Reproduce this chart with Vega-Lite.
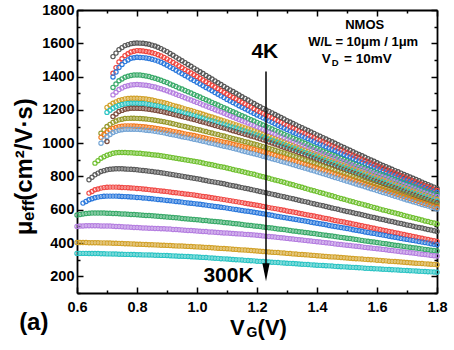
{
"$schema": "https://vega.github.io/schema/vega-lite/v6.json",
"width": 360, "height": 283,
"autosize": "none",
"padding": {"left": 77, "top": 10, "right": 17, "bottom": 57},
"background": "white",
"config": {"view": {"stroke": null}, "font": "Liberation Sans"},
"resolve": {"axis": {"x": "independent", "y": "independent"}},
"layer": [
{
"data": {"values": [
{"x":0.6,"p":568,"q":500,"r":403,"s":338},
{"x":0.61,"p":572,"q":502,"r":403,"s":338},
{"x":0.62,"o":640,"p":575,"q":503,"r":403,"s":338},
{"x":0.63,"o":650,"p":577,"q":504,"r":403,"s":338},
{"x":0.64,"m":780,"n":700,"o":660,"p":579,"q":504,"r":402,"s":337},
{"x":0.65,"m":795,"n":710,"o":666,"p":580,"q":504,"r":402,"s":337},
{"x":0.66,"l":880,"m":810,"n":720,"o":672,"p":580,"q":504,"r":402,"s":337},
{"x":0.67,"l":895,"m":820,"n":725,"o":676,"p":580,"q":504,"r":402,"s":337},
{"x":0.68,"i":1060,"j":1035,"k":1000,"l":910,"m":830,"n":730,"o":679,"p":580,"q":503,"r":401,"s":336},
{"x":0.69,"i":1080,"j":1052,"k":1020,"l":919,"m":835,"n":733,"o":681,"p":580,"q":503,"r":401,"s":336},
{"x":0.7,"f":1215,"g":1185,"h":1010,"i":1100,"j":1068,"k":1040,"l":928,"m":840,"n":735,"o":682,"p":579,"q":502,"r":400,"s":335},
{"x":0.71,"f":1228,"g":1198,"i":1113,"j":1078,"k":1052,"l":934,"m":843,"n":736,"o":682,"p":579,"q":502,"r":400,"s":335},
{"x":0.72,"a":1520,"b":1420,"c":1398,"d":1335,"e":1290,"f":1240,"g":1210,"h":1160,"i":1125,"j":1088,"k":1064,"l":939,"m":845,"n":736,"o":682,"p":578,"q":501,"r":399,"s":334},
{"x":0.73,"a":1541,"b":1454,"c":1427,"d":1355,"e":1306,"f":1248,"g":1219,"h":1175,"i":1133,"j":1094,"k":1071,"l":942,"m":846,"n":736,"o":682,"p":577,"q":500,"r":399,"s":334},
{"x":0.74,"a":1562,"b":1488,"c":1455,"d":1375,"e":1322,"f":1256,"g":1227,"h":1190,"i":1140,"j":1099,"k":1078,"l":944,"m":846,"n":735,"o":681,"p":576,"q":499,"r":398,"s":333},
{"x":0.75,"a":1574,"b":1507,"c":1473,"d":1386,"e":1331,"f":1261,"g":1232,"h":1197,"i":1144,"j":1102,"k":1081,"l":944,"m":846,"n":734,"o":680,"p":575,"q":498,"r":397,"s":333},
{"x":0.76,"a":1586,"b":1526,"c":1490,"d":1396,"e":1340,"f":1266,"g":1236,"h":1204,"i":1148,"j":1104,"k":1084,"l":944,"m":845,"n":733,"o":679,"p":574,"q":497,"r":396,"s":332},
{"x":0.77,"a":1592,"b":1537,"c":1500,"d":1402,"e":1345,"f":1268,"g":1238,"h":1207,"i":1149,"j":1104,"k":1084,"l":943,"m":844,"n":732,"o":678,"p":573,"q":496,"r":396,"s":332},
{"x":0.78,"a":1598,"b":1548,"c":1510,"d":1407,"e":1350,"f":1270,"g":1240,"h":1210,"i":1150,"j":1104,"k":1084,"l":942,"m":843,"n":731,"o":677,"p":572,"q":495,"r":395,"s":331},
{"x":0.79,"a":1600,"b":1552,"c":1513,"d":1409,"e":1351,"f":1270,"g":1240,"h":1210,"i":1150,"j":1103,"k":1084,"l":941,"m":842,"n":730,"o":676,"p":571,"q":494,"r":394,"s":331},
{"x":0.8,"a":1602,"b":1556,"c":1516,"d":1410,"e":1352,"f":1270,"g":1240,"h":1210,"i":1149,"j":1102,"k":1083,"l":940,"m":840,"n":728,"o":674,"p":570,"q":493,"r":393,"s":330},
{"x":0.81,"a":1601,"b":1555,"c":1515,"d":1409,"e":1351,"f":1269,"g":1239,"h":1209,"i":1148,"j":1101,"k":1082,"l":939,"m":838,"n":727,"o":673,"p":569,"q":492,"r":393,"s":330},
{"x":0.82,"a":1600,"b":1554,"c":1514,"d":1407,"e":1350,"f":1267,"g":1238,"h":1208,"i":1147,"j":1099,"k":1080,"l":937,"m":836,"n":725,"o":671,"p":567,"q":491,"r":392,"s":329},
{"x":0.83,"a":1597,"b":1551,"c":1512,"d":1404,"e":1348,"f":1265,"g":1236,"h":1206,"i":1145,"j":1097,"k":1078,"l":935,"m":834,"n":723,"o":670,"p":566,"q":490,"r":391,"s":329},
{"x":0.84,"a":1594,"b":1548,"c":1509,"d":1400,"e":1345,"f":1262,"g":1233,"h":1204,"i":1143,"j":1095,"k":1076,"l":933,"m":832,"n":721,"o":668,"p":565,"q":489,"r":390,"s":328},
{"x":0.85,"a":1589,"b":1543,"c":1504,"d":1395,"e":1341,"f":1259,"g":1230,"h":1201,"i":1141,"j":1093,"k":1074,"l":931,"m":830,"n":719,"o":666,"p":564,"q":489,"r":390,"s":328},
{"x":0.86,"a":1584,"b":1538,"c":1499,"d":1390,"e":1337,"f":1255,"g":1227,"h":1198,"i":1138,"j":1090,"k":1071,"l":929,"m":827,"n":717,"o":664,"p":562,"q":488,"r":389,"s":327},
{"x":0.87,"a":1576,"b":1531,"c":1493,"d":1384,"e":1332,"f":1251,"g":1224,"h":1195,"i":1135,"j":1087,"k":1068,"l":927,"m":825,"n":715,"o":662,"p":561,"q":487,"r":388,"s":327},
{"x":0.88,"a":1568,"b":1524,"c":1486,"d":1378,"e":1327,"f":1247,"g":1220,"h":1191,"i":1132,"j":1084,"k":1065,"l":924,"m":822,"n":713,"o":660,"p":559,"q":486,"r":387,"s":326},
{"x":0.89,"a":1559,"b":1515,"c":1477,"d":1371,"e":1321,"f":1243,"g":1216,"h":1187,"i":1129,"j":1081,"k":1062,"l":922,"m":820,"n":711,"o":658,"p":558,"q":486,"r":387,"s":326},
{"x":0.9,"a":1550,"b":1506,"c":1468,"d":1364,"e":1315,"f":1238,"g":1212,"h":1183,"i":1125,"j":1078,"k":1058,"l":919,"m":817,"n":709,"o":656,"p":556,"q":485,"r":386,"s":325},
{"x":0.91,"a":1539,"b":1496,"c":1458,"d":1356,"e":1308,"f":1233,"g":1207,"h":1179,"i":1121,"j":1075,"k":1054,"l":916,"m":814,"n":707,"o":654,"p":555,"q":484,"r":385,"s":324},
{"x":0.92,"a":1528,"b":1485,"c":1448,"d":1348,"e":1301,"f":1227,"g":1202,"h":1174,"i":1117,"j":1071,"k":1050,"l":913,"m":811,"n":704,"o":652,"p":553,"q":482,"r":384,"s":323},
{"x":0.93,"a":1517,"b":1475,"c":1438,"d":1340,"e":1294,"f":1222,"g":1197,"h":1170,"i":1113,"j":1068,"k":1047,"l":910,"m":808,"n":702,"o":650,"p":552,"q":481,"r":383,"s":322},
{"x":0.94,"a":1506,"b":1464,"c":1427,"d":1332,"e":1287,"f":1217,"g":1192,"h":1165,"i":1108,"j":1064,"k":1043,"l":907,"m":805,"n":700,"o":648,"p":550,"q":480,"r":382,"s":321},
{"x":0.95,"a":1495,"b":1453,"c":1417,"d":1325,"e":1280,"f":1212,"g":1187,"h":1160,"i":1104,"j":1060,"k":1039,"l":904,"m":802,"n":698,"o":646,"p":548,"q":479,"r":382,"s":321},
{"x":0.96,"a":1484,"b":1442,"c":1407,"d":1317,"e":1273,"f":1206,"g":1182,"h":1155,"i":1100,"j":1056,"k":1035,"l":900,"m":798,"n":695,"o":643,"p":546,"q":477,"r":381,"s":320},
{"x":0.97,"a":1473,"b":1432,"c":1397,"d":1309,"e":1266,"f":1201,"g":1177,"h":1151,"i":1096,"j":1053,"k":1032,"l":897,"m":795,"n":693,"o":641,"p":545,"q":476,"r":380,"s":319},
{"x":0.98,"a":1462,"b":1421,"c":1386,"d":1301,"e":1259,"f":1196,"g":1172,"h":1146,"i":1091,"j":1049,"k":1028,"l":894,"m":792,"n":691,"o":639,"p":543,"q":475,"r":379,"s":318},
{"x":0.99,"a":1451,"b":1411,"c":1376,"d":1293,"e":1252,"f":1191,"g":1167,"h":1142,"i":1087,"j":1046,"k":1024,"l":891,"m":789,"n":689,"o":637,"p":542,"q":474,"r":378,"s":317},
{"x":1.0,"a":1440,"b":1400,"c":1366,"d":1285,"e":1245,"f":1185,"g":1162,"h":1137,"i":1083,"j":1042,"k":1020,"l":888,"m":786,"n":686,"o":635,"p":540,"q":472,"r":377,"s":316},
{"x":1.01,"a":1429,"b":1390,"c":1356,"d":1277,"e":1238,"f":1180,"g":1157,"h":1132,"i":1079,"j":1038,"k":1016,"l":885,"m":783,"n":683,"o":633,"p":538,"q":471,"r":376,"s":315},
{"x":1.02,"a":1418,"b":1379,"c":1345,"d":1269,"e":1230,"f":1174,"g":1151,"h":1127,"i":1074,"j":1034,"k":1012,"l":881,"m":779,"n":680,"o":630,"p":536,"q":470,"r":375,"s":314},
{"x":1.03,"a":1407,"b":1369,"c":1335,"d":1261,"e":1223,"f":1168,"g":1146,"h":1122,"i":1070,"j":1030,"k":1008,"l":877,"m":776,"n":678,"o":628,"p":535,"q":469,"r":374,"s":313},
{"x":1.04,"a":1396,"b":1358,"c":1325,"d":1253,"e":1216,"f":1162,"g":1140,"h":1117,"i":1065,"j":1026,"k":1003,"l":873,"m":772,"n":675,"o":625,"p":533,"q":467,"r":373,"s":311},
{"x":1.05,"a":1385,"b":1348,"c":1315,"d":1245,"e":1209,"f":1157,"g":1135,"h":1112,"i":1061,"j":1022,"k":999,"l":870,"m":769,"n":672,"o":623,"p":531,"q":466,"r":372,"s":310},
{"x":1.06,"a":1374,"b":1337,"c":1304,"d":1237,"e":1201,"f":1151,"g":1130,"h":1106,"i":1056,"j":1018,"k":995,"l":866,"m":766,"n":669,"o":620,"p":529,"q":465,"r":370,"s":309},
{"x":1.07,"a":1363,"b":1327,"c":1294,"d":1229,"e":1194,"f":1145,"g":1125,"h":1101,"i":1052,"j":1014,"k":991,"l":862,"m":763,"n":667,"o":618,"p":528,"q":464,"r":369,"s":308},
{"x":1.08,"a":1352,"b":1316,"c":1284,"d":1221,"e":1187,"f":1139,"g":1119,"h":1096,"i":1047,"j":1010,"k":986,"l":858,"m":759,"n":664,"o":615,"p":526,"q":462,"r":368,"s":306},
{"x":1.09,"a":1341,"b":1306,"c":1274,"d":1213,"e":1180,"f":1134,"g":1114,"h":1091,"i":1043,"j":1006,"k":982,"l":855,"m":756,"n":661,"o":613,"p":524,"q":461,"r":367,"s":305},
{"x":1.1,"a":1330,"b":1295,"c":1263,"d":1205,"e":1172,"f":1128,"g":1108,"h":1086,"i":1038,"j":1002,"k":978,"l":851,"m":752,"n":658,"o":610,"p":522,"q":460,"r":366,"s":304},
{"x":1.11,"a":1320,"b":1285,"c":1254,"d":1197,"e":1165,"f":1122,"g":1102,"h":1081,"i":1033,"j":998,"k":974,"l":847,"m":748,"n":655,"o":607,"p":520,"q":459,"r":365,"s":303},
{"x":1.12,"a":1310,"b":1275,"c":1244,"d":1189,"e":1157,"f":1116,"g":1096,"h":1075,"i":1028,"j":993,"k":969,"l":842,"m":744,"n":652,"o":604,"p":518,"q":457,"r":363,"s":301},
{"x":1.13,"a":1300,"b":1266,"c":1235,"d":1181,"e":1150,"f":1110,"g":1091,"h":1070,"i":1024,"j":989,"k":965,"l":838,"m":741,"n":649,"o":602,"p":516,"q":456,"r":362,"s":300},
{"x":1.14,"a":1289,"b":1256,"c":1225,"d":1173,"e":1142,"f":1104,"g":1085,"h":1064,"i":1019,"j":984,"k":960,"l":834,"m":737,"n":646,"o":599,"p":514,"q":455,"r":360,"s":299},
{"x":1.15,"a":1279,"b":1246,"c":1216,"d":1165,"e":1135,"f":1098,"g":1079,"h":1059,"i":1014,"j":980,"k":955,"l":830,"m":733,"n":643,"o":596,"p":512,"q":454,"r":359,"s":298},
{"x":1.16,"a":1269,"b":1236,"c":1207,"d":1157,"e":1128,"f":1092,"g":1073,"h":1054,"i":1009,"j":976,"k":950,"l":825,"m":729,"n":639,"o":593,"p":509,"q":452,"r":358,"s":296},
{"x":1.17,"a":1259,"b":1227,"c":1198,"d":1149,"e":1121,"f":1086,"g":1068,"h":1049,"i":1005,"j":972,"k":946,"l":821,"m":726,"n":636,"o":591,"p":507,"q":451,"r":357,"s":295},
{"x":1.18,"a":1248,"b":1217,"c":1188,"d":1141,"e":1113,"f":1080,"g":1062,"h":1043,"i":1000,"j":967,"k":941,"l":817,"m":722,"n":633,"o":588,"p":505,"q":450,"r":355,"s":294},
{"x":1.19,"a":1238,"b":1207,"c":1179,"d":1133,"e":1106,"f":1074,"g":1056,"h":1038,"i":995,"j":963,"k":937,"l":813,"m":718,"n":630,"o":585,"p":503,"q":449,"r":354,"s":293},
{"x":1.2,"a":1228,"b":1197,"c":1169,"d":1125,"e":1098,"f":1068,"g":1050,"h":1032,"i":990,"j":958,"k":932,"l":808,"m":714,"n":627,"o":582,"p":501,"q":447,"r":352,"s":291},
{"x":1.21,"a":1219,"b":1188,"c":1161,"d":1117,"e":1091,"f":1061,"g":1044,"h":1026,"i":985,"j":953,"k":927,"l":803,"m":710,"n":624,"o":579,"p":499,"q":445,"r":351,"s":290},
{"x":1.22,"a":1209,"b":1179,"c":1152,"d":1109,"e":1083,"f":1054,"g":1037,"h":1020,"i":979,"j":948,"k":922,"l":798,"m":706,"n":620,"o":576,"p":496,"q":443,"r":349,"s":289},
{"x":1.23,"a":1200,"b":1170,"c":1143,"d":1101,"e":1076,"f":1048,"g":1031,"h":1014,"i":974,"j":943,"k":917,"l":794,"m":702,"n":617,"o":573,"p":494,"q":441,"r":348,"s":288},
{"x":1.24,"a":1191,"b":1161,"c":1134,"d":1093,"e":1068,"f":1041,"g":1024,"h":1007,"i":968,"j":938,"k":912,"l":789,"m":698,"n":613,"o":570,"p":492,"q":439,"r":346,"s":286},
{"x":1.25,"a":1182,"b":1152,"c":1126,"d":1085,"e":1061,"f":1034,"g":1018,"h":1001,"i":963,"j":933,"k":907,"l":784,"m":694,"n":610,"o":567,"p":490,"q":438,"r":345,"s":285},
{"x":1.26,"a":1172,"b":1143,"c":1117,"d":1077,"e":1054,"f":1027,"g":1011,"h":995,"i":957,"j":927,"k":902,"l":779,"m":690,"n":607,"o":563,"p":487,"q":436,"r":344,"s":284},
{"x":1.27,"a":1163,"b":1134,"c":1108,"d":1069,"e":1047,"f":1021,"g":1005,"h":989,"i":952,"j":922,"k":897,"l":775,"m":686,"n":604,"o":560,"p":485,"q":434,"r":343,"s":283},
{"x":1.28,"a":1154,"b":1125,"c":1099,"d":1061,"e":1039,"f":1014,"g":998,"h":982,"i":946,"j":917,"k":892,"l":770,"m":682,"n":600,"o":557,"p":483,"q":432,"r":341,"s":281},
{"x":1.29,"a":1145,"b":1116,"c":1091,"d":1053,"e":1032,"f":1007,"g":992,"h":976,"i":941,"j":912,"k":887,"l":765,"m":678,"n":597,"o":554,"p":481,"q":430,"r":340,"s":280},
{"x":1.3,"a":1135,"b":1107,"c":1082,"d":1045,"e":1024,"f":1000,"g":985,"h":970,"i":935,"j":907,"k":882,"l":760,"m":674,"n":593,"o":551,"p":478,"q":428,"r":338,"s":279},
{"x":1.31,"a":1127,"b":1099,"c":1074,"d":1038,"e":1017,"f":993,"g":978,"h":964,"i":929,"j":902,"k":877,"l":755,"m":670,"n":590,"o":548,"p":476,"q":426,"r":337,"s":278},
{"x":1.32,"a":1118,"b":1091,"c":1066,"d":1030,"e":1010,"f":986,"g":971,"h":957,"i":923,"j":896,"k":871,"l":750,"m":666,"n":586,"o":545,"p":473,"q":424,"r":335,"s":277},
{"x":1.33,"a":1110,"b":1083,"c":1058,"d":1022,"e":1003,"f":979,"g":965,"h":951,"i":917,"j":891,"k":866,"l":745,"m":662,"n":583,"o":542,"p":471,"q":422,"r":334,"s":276},
{"x":1.34,"a":1101,"b":1074,"c":1050,"d":1014,"e":995,"f":972,"g":958,"h":944,"i":911,"j":885,"k":860,"l":740,"m":657,"n":579,"o":538,"p":468,"q":420,"r":332,"s":274},
{"x":1.35,"a":1093,"b":1066,"c":1043,"d":1007,"e":988,"f":965,"g":951,"h":937,"i":905,"j":880,"k":855,"l":735,"m":653,"n":576,"o":535,"p":466,"q":418,"r":331,"s":273},
{"x":1.36,"a":1084,"b":1058,"c":1035,"d":999,"e":981,"f":958,"g":944,"h":930,"i":899,"j":874,"k":850,"l":729,"m":649,"n":572,"o":532,"p":464,"q":416,"r":330,"s":272},
{"x":1.37,"a":1076,"b":1050,"c":1027,"d":991,"e":974,"f":951,"g":938,"h":924,"i":893,"j":869,"k":845,"l":724,"m":645,"n":569,"o":529,"p":462,"q":414,"r":329,"s":271},
{"x":1.38,"a":1067,"b":1042,"c":1019,"d":983,"e":966,"f":944,"g":931,"h":917,"i":887,"j":863,"k":839,"l":719,"m":640,"n":565,"o":525,"p":459,"q":412,"r":327,"s":269},
{"x":1.39,"a":1059,"b":1034,"c":1011,"d":976,"e":959,"f":937,"g":924,"h":911,"i":881,"j":858,"k":834,"l":714,"m":636,"n":562,"o":522,"p":457,"q":410,"r":326,"s":268},
{"x":1.4,"a":1050,"b":1026,"c":1003,"d":968,"e":952,"f":930,"g":917,"h":904,"i":875,"j":852,"k":828,"l":709,"m":632,"n":558,"o":519,"p":454,"q":408,"r":324,"s":267},
{"x":1.41,"a":1042,"b":1018,"c":995,"d":961,"e":945,"f":923,"g":910,"h":898,"i":869,"j":846,"k":823,"l":704,"m":628,"n":555,"o":516,"p":452,"q":406,"r":323,"s":266},
{"x":1.42,"a":1033,"b":1010,"c":987,"d":953,"e":938,"f":916,"g":903,"h":891,"i":863,"j":840,"k":817,"l":699,"m":624,"n":551,"o":513,"p":449,"q":404,"r":321,"s":265},
{"x":1.43,"a":1025,"b":1002,"c":979,"d":946,"e":931,"f":909,"g":896,"h":884,"i":857,"j":834,"k":812,"l":694,"m":620,"n":548,"o":510,"p":447,"q":402,"r":320,"s":264},
{"x":1.44,"a":1016,"b":993,"c":971,"d":938,"e":924,"f":902,"g":889,"h":877,"i":851,"j":828,"k":806,"l":689,"m":615,"n":544,"o":506,"p":444,"q":400,"r":318,"s":263},
{"x":1.45,"a":1008,"b":985,"c":964,"d":931,"e":917,"f":895,"g":883,"h":871,"i":845,"j":823,"k":800,"l":684,"m":611,"n":540,"o":503,"p":442,"q":398,"r":317,"s":262},
{"x":1.46,"a":999,"b":977,"c":956,"d":924,"e":909,"f":888,"g":876,"h":864,"i":838,"j":817,"k":794,"l":678,"m":607,"n":536,"o":500,"p":439,"q":395,"r":316,"s":260},
{"x":1.47,"a":991,"b":969,"c":948,"d":917,"e":902,"f":881,"g":869,"h":857,"i":832,"j":811,"k":789,"l":673,"m":603,"n":533,"o":497,"p":437,"q":393,"r":315,"s":259},
{"x":1.48,"a":982,"b":960,"c":940,"d":909,"e":895,"f":874,"g":862,"h":850,"i":826,"j":805,"k":783,"l":668,"m":598,"n":529,"o":493,"p":434,"q":391,"r":313,"s":258},
{"x":1.49,"a":974,"b":952,"c":932,"d":902,"e":888,"f":867,"g":855,"h":844,"i":820,"j":799,"k":778,"l":663,"m":594,"n":526,"o":490,"p":432,"q":389,"r":312,"s":257},
{"x":1.5,"a":965,"b":944,"c":924,"d":894,"e":881,"f":860,"g":848,"h":837,"i":814,"j":793,"k":772,"l":658,"m":590,"n":522,"o":487,"p":429,"q":387,"r":310,"s":256},
{"x":1.51,"a":957,"b":936,"c":917,"d":887,"e":874,"f":853,"g":842,"h":831,"i":808,"j":787,"k":767,"l":653,"m":586,"n":519,"o":484,"p":427,"q":385,"r":309,"s":255},
{"x":1.52,"a":948,"b":928,"c":909,"d":880,"e":867,"f":846,"g":835,"h":824,"i":801,"j":781,"k":761,"l":648,"m":582,"n":515,"o":480,"p":424,"q":383,"r":307,"s":254},
{"x":1.53,"a":940,"b":920,"c":901,"d":873,"e":860,"f":840,"g":828,"h":818,"i":795,"j":775,"k":755,"l":643,"m":578,"n":511,"o":477,"p":422,"q":381,"r":306,"s":253},
{"x":1.54,"a":932,"b":912,"c":893,"d":866,"e":853,"f":833,"g":821,"h":811,"i":789,"j":769,"k":749,"l":638,"m":574,"n":507,"o":474,"p":419,"q":379,"r":305,"s":252},
{"x":1.55,"a":924,"b":904,"c":886,"d":859,"e":847,"f":826,"g":815,"h":804,"i":783,"j":763,"k":744,"l":634,"m":570,"n":504,"o":471,"p":416,"q":377,"r":304,"s":251},
{"x":1.56,"a":915,"b":896,"c":878,"d":852,"e":840,"f":819,"g":808,"h":797,"i":776,"j":757,"k":738,"l":629,"m":565,"n":500,"o":467,"p":413,"q":374,"r":302,"s":249},
{"x":1.57,"a":907,"b":888,"c":870,"d":845,"e":833,"f":813,"g":801,"h":791,"i":770,"j":751,"k":732,"l":624,"m":561,"n":496,"o":464,"p":411,"q":372,"r":301,"s":248},
{"x":1.58,"a":899,"b":880,"c":862,"d":838,"e":826,"f":806,"g":794,"h":784,"i":764,"j":745,"k":726,"l":619,"m":557,"n":492,"o":461,"p":408,"q":370,"r":300,"s":247},
{"x":1.59,"a":891,"b":872,"c":855,"d":831,"e":819,"f":799,"g":788,"h":778,"i":758,"j":739,"k":721,"l":614,"m":553,"n":489,"o":458,"p":406,"q":368,"r":299,"s":246},
{"x":1.6,"a":882,"b":864,"c":847,"d":824,"e":812,"f":792,"g":781,"h":771,"i":751,"j":733,"k":715,"l":609,"m":549,"n":485,"o":454,"p":403,"q":366,"r":297,"s":245},
{"x":1.61,"a":874,"b":857,"c":840,"d":817,"e":805,"f":786,"g":775,"h":765,"i":745,"j":727,"k":710,"l":604,"m":545,"n":481,"o":451,"p":401,"q":364,"r":296,"s":244},
{"x":1.62,"a":866,"b":849,"c":833,"d":810,"e":798,"f":779,"g":768,"h":758,"i":739,"j":721,"k":704,"l":599,"m":541,"n":477,"o":448,"p":398,"q":362,"r":294,"s":243},
{"x":1.63,"a":859,"b":842,"c":826,"d":804,"e":792,"f":773,"g":762,"h":752,"i":733,"j":715,"k":699,"l":595,"m":537,"n":474,"o":445,"p":396,"q":360,"r":293,"s":242},
{"x":1.64,"a":851,"b":834,"c":818,"d":797,"e":785,"f":766,"g":755,"h":745,"i":726,"j":709,"k":693,"l":590,"m":533,"n":470,"o":441,"p":393,"q":357,"r":291,"s":241},
{"x":1.65,"a":843,"b":827,"c":811,"d":790,"e":778,"f":759,"g":749,"h":739,"i":720,"j":703,"k":687,"l":585,"m":529,"n":466,"o":438,"p":390,"q":355,"r":290,"s":240},
{"x":1.66,"a":835,"b":819,"c":804,"d":783,"e":771,"f":752,"g":742,"h":732,"i":714,"j":697,"k":681,"l":580,"m":525,"n":462,"o":435,"p":387,"q":353,"r":289,"s":239},
{"x":1.67,"a":828,"b":812,"c":797,"d":777,"e":765,"f":746,"g":736,"h":726,"i":708,"j":691,"k":676,"l":576,"m":521,"n":459,"o":432,"p":385,"q":351,"r":288,"s":238},
{"x":1.68,"a":820,"b":804,"c":789,"d":770,"e":758,"f":739,"g":729,"h":719,"i":701,"j":685,"k":670,"l":571,"m":517,"n":455,"o":428,"p":382,"q":348,"r":286,"s":237},
{"x":1.69,"a":812,"b":797,"c":782,"d":763,"e":751,"f":733,"g":723,"h":713,"i":695,"j":679,"k":665,"l":566,"m":513,"n":451,"o":425,"p":380,"q":346,"r":285,"s":236},
{"x":1.7,"a":804,"b":789,"c":775,"d":756,"e":744,"f":726,"g":716,"h":706,"i":689,"j":673,"k":659,"l":561,"m":509,"n":447,"o":422,"p":377,"q":344,"r":283,"s":235},
{"x":1.71,"a":797,"b":782,"c":768,"d":750,"e":738,"f":720,"g":710,"h":700,"i":683,"j":667,"k":654,"l":557,"m":505,"n":444,"o":419,"p":375,"q":342,"r":282,"s":234},
{"x":1.72,"a":789,"b":774,"c":761,"d":743,"e":731,"f":713,"g":703,"h":693,"i":677,"j":661,"k":648,"l":552,"m":501,"n":440,"o":416,"p":372,"q":340,"r":280,"s":233},
{"x":1.73,"a":782,"b":767,"c":754,"d":737,"e":725,"f":707,"g":697,"h":687,"i":671,"j":656,"k":643,"l":548,"m":497,"n":436,"o":413,"p":370,"q":338,"r":279,"s":232},
{"x":1.74,"a":774,"b":760,"c":747,"d":730,"e":718,"f":700,"g":690,"h":680,"i":665,"j":650,"k":637,"l":543,"m":493,"n":432,"o":409,"p":367,"q":335,"r":278,"s":231},
{"x":1.75,"a":766,"b":753,"c":740,"d":723,"e":711,"f":694,"g":684,"h":674,"i":659,"j":644,"k":632,"l":538,"m":490,"n":429,"o":406,"p":365,"q":333,"r":277,"s":230},
{"x":1.76,"a":758,"b":745,"c":732,"d":716,"e":704,"f":688,"g":678,"h":668,"i":652,"j":638,"k":627,"l":533,"m":486,"n":425,"o":403,"p":362,"q":331,"r":275,"s":229},
{"x":1.77,"a":751,"b":738,"c":725,"d":710,"e":698,"f":682,"g":672,"h":662,"i":646,"j":633,"k":622,"l":529,"m":482,"n":421,"o":400,"p":360,"q":329,"r":274,"s":228},
{"x":1.78,"a":743,"b":731,"c":718,"d":703,"e":691,"f":675,"g":665,"h":655,"i":640,"j":627,"k":616,"l":524,"m":478,"n":417,"o":396,"p":357,"q":326,"r":273,"s":227},
{"x":1.79,"a":736,"b":724,"c":711,"d":697,"e":685,"f":669,"g":659,"h":649,"i":634,"j":621,"k":611,"l":520,"m":474,"n":414,"o":393,"p":355,"q":324,"r":272,"s":226},
{"x":1.8,"a":728,"b":716,"c":704,"d":690,"e":678,"f":662,"g":652,"h":642,"i":628,"j":615,"k":605,"l":515,"m":470,"n":410,"o":390,"p":352,"q":322,"r":270,"s":225}
]},
"transform": [
{"fold": ["a","b","c","d","e","f","g","h","i","j","k","l","m","n","o","p","q","r","s"], "as": ["key","value"]},
{"filter": "isValid(datum.value)"}
],
"mark": {"type": "point", "filled": false, "size": 18, "strokeWidth": 1.2, "opacity": 1},
"encoding": {
"x": {"field": "x", "type": "quantitative",
"scale": {"domain": [0.6, 1.8], "nice": false, "zero": false},
"axis": {"orient": "bottom", "values": [0.6,0.7,0.8,0.9,1.0,1.1,1.2,1.3,1.4,1.5,1.6,1.7,1.8],
"labelExpr": "round(datum.value*10)%2===0 ? format(datum.value,'.1f') : ''",
"tickSize": {"condition": {"test": "round(datum.value*10)%2===0", "value": -6}, "value": -3},
"tickWidth": 1.5, "tickColor": "black", "domainColor": "black", "domainWidth": 1.8,
"labelFont": "Liberation Sans", "labelFontSize": 14.5, "labelFontWeight": "bold", "labelColor": "black",
"labelPadding": 13, "labelFlush": false, "labelOverlap": false, "grid": false, "title": null}},
"y": {"field": "value", "type": "quantitative",
"scale": {"domain": [100, 1800], "nice": false, "zero": false},
"axis": {"orient": "left", "values": [100,200,300,400,500,600,700,800,900,1000,1100,1200,1300,1400,1500,1600,1700,1800],
"labelExpr": "datum.value % 200 === 0 && datum.value >= 200 ? format(datum.value,'d') : ''",
"tickSize": {"condition": {"test": "datum.value % 200 === 0", "value": -6}, "value": -3},
"tickWidth": 1.5, "tickColor": "black", "domainColor": "black", "domainWidth": 1.8,
"labelFont": "Liberation Sans", "labelFontSize": 14.5, "labelFontWeight": "bold", "labelColor": "black",
"labelPadding": 9, "labelFlush": false, "labelOverlap": false, "grid": false, "title": null}},
"color": {"field": "key", "type": "nominal", "legend": null,
"scale": {"domain": ["a","b","c","d","e","f","g","h","i","j","k","l","m","n","o","p","q","r","s"],
"range": ["#555555","#f0443c","#2a78dc","#3aaa6a","#b57fe0","#d2a22a","#2cc4c4","#7c4c3e","#96982a","#f27a1e","#74a4d4","#70c030","#5a5a5a","#f04a46","#2a78dc","#3aaa6a","#b57fe0","#d2a22a","#2cc4c4"]}}
}
},
{
"data": {"values": [{}]},
"mark": {"type": "rule", "stroke": "black", "strokeWidth": 1.5},
"encoding": {
"x": {"datum": 1.23, "type": "quantitative", "scale": {"domain": [0.6, 1.8], "nice": false, "zero": false},
"axis": {"orient": "top", "values": [0.6,0.7,0.8,0.9,1.0,1.1,1.2,1.3,1.4,1.5,1.6,1.7,1.8], "labels": false, "title": null,
"tickSize": {"condition": {"test": "round(datum.value*10)%2===0", "value": -6}, "value": -3},
"tickWidth": 1.5, "tickColor": "black", "domainColor": "black", "domainWidth": 1.8, "grid": false}},
"y": {"datum": 1430, "type": "quantitative", "scale": {"domain": [100, 1800], "nice": false, "zero": false},
"axis": {"orient": "right", "values": [100,200,300,400,500,600,700,800,900,1000,1100,1200,1300,1400,1500,1600,1700,1800], "labels": false, "title": null,
"tickSize": {"condition": {"test": "datum.value % 200 === 0", "value": -6}, "value": -3},
"tickWidth": 1.5, "tickColor": "black", "domainColor": "black", "domainWidth": 1.8, "grid": false}},
"y2": {"datum": 230}
}
},
{
"data": {"values": [{}]},
"mark": {"type": "point", "shape": "M-0.4,-1L0.4,-1L0,1Z", "filled": true, "color": "black", "size": 324, "opacity": 1},
"encoding": {
"x": {"datum": 1.23, "type": "quantitative", "scale": {"domain": [0.6, 1.8]}, "axis": null},
"y": {"datum": 224, "type": "quantitative", "scale": {"domain": [100, 1800]}, "axis": null}
}
},
{
"data": {"values": [{}]},
"mark": {"type": "text", "text": "4K", "font": "Liberation Sans", "fontWeight": "bold", "fontSize": 21, "align": "center", "baseline": "middle", "color": "black"},
"encoding": {
"x": {"datum": 1.226, "type": "quantitative", "scale": {"domain": [0.6, 1.8]}, "axis": null},
"y": {"datum": 1548, "type": "quantitative", "scale": {"domain": [100, 1800]}, "axis": null}
}
},
{
"data": {"values": [{}]},
"mark": {"type": "text", "text": "300K", "font": "Liberation Sans", "fontWeight": "bold", "fontSize": 21, "align": "center", "baseline": "middle", "color": "black"},
"encoding": {
"x": {"datum": 1.105, "type": "quantitative", "scale": {"domain": [0.6, 1.8]}, "axis": null},
"y": {"datum": 200, "type": "quantitative", "scale": {"domain": [100, 1800]}, "axis": null}
}
},
{
"data": {"values": [{}]},
"mark": {"type": "text", "text": "NMOS", "font": "Liberation Sans", "fontWeight": "bold", "fontSize": 13, "align": "center", "baseline": "middle", "color": "black"},
"encoding": {
"x": {"datum": 1.559, "type": "quantitative", "scale": {"domain": [0.6, 1.8]}, "axis": null},
"y": {"datum": 1710, "type": "quantitative", "scale": {"domain": [100, 1800]}, "axis": null}
}
},
{
"data": {"values": [{}]},
"mark": {"type": "text", "text": "W/L = 10μm / 1μm", "font": "Liberation Sans", "fontWeight": "bold", "fontSize": 13, "align": "center", "baseline": "middle", "color": "black"},
"encoding": {
"x": {"datum": 1.554, "type": "quantitative", "scale": {"domain": [0.6, 1.8]}, "axis": null},
"y": {"datum": 1608, "type": "quantitative", "scale": {"domain": [100, 1800]}, "axis": null}
}
},
{
"data": {"values": [{}]},
"mark": {"type": "text", "text": "V", "font": "Liberation Sans", "fontWeight": "bold", "fontSize": 13.5, "align": "center", "baseline": "middle", "color": "black"},
"encoding": {
"x": {"datum": 1.431, "type": "quantitative", "scale": {"domain": [0.6, 1.8]}, "axis": null},
"y": {"datum": 1506, "type": "quantitative", "scale": {"domain": [100, 1800]}, "axis": null}
}
},
{
"data": {"values": [{}]},
"mark": {"type": "text", "text": "D", "font": "Liberation Sans", "fontWeight": "bold", "fontSize": 9.5, "align": "center", "baseline": "middle", "color": "black"},
"encoding": {
"x": {"datum": 1.461, "type": "quantitative", "scale": {"domain": [0.6, 1.8]}, "axis": null},
"y": {"datum": 1480, "type": "quantitative", "scale": {"domain": [100, 1800]}, "axis": null}
}
},
{
"data": {"values": [{}]},
"mark": {"type": "text", "text": "= 10mV", "font": "Liberation Sans", "fontWeight": "bold", "fontSize": 13.5, "align": "left", "baseline": "middle", "color": "black"},
"encoding": {
"x": {"datum": 1.49, "type": "quantitative", "scale": {"domain": [0.6, 1.8]}, "axis": null},
"y": {"datum": 1506, "type": "quantitative", "scale": {"domain": [100, 1800]}, "axis": null}
}
},
{
"data": {"values": [{}]},
"mark": {"type": "text", "text": "V", "font": "Liberation Sans", "fontWeight": "bold", "fontSize": 22, "align": "left", "baseline": "middle", "color": "black"},
"encoding": {
"x": {"datum": 1.1097, "type": "quantitative", "scale": {"domain": [0.6, 1.8]}, "axis": null},
"y": {"datum": -110, "type": "quantitative", "scale": {"domain": [100, 1800]}, "axis": null}
}
},
{
"data": {"values": [{}]},
"mark": {"type": "text", "text": "G", "font": "Liberation Sans", "fontWeight": "bold", "fontSize": 14, "align": "left", "baseline": "middle", "color": "black"},
"encoding": {
"x": {"datum": 1.1653, "type": "quantitative", "scale": {"domain": [0.6, 1.8]}, "axis": null},
"y": {"datum": -140, "type": "quantitative", "scale": {"domain": [100, 1800]}, "axis": null}
}
},
{
"data": {"values": [{}]},
"mark": {"type": "text", "text": "(V)", "font": "Liberation Sans", "fontWeight": "bold", "fontSize": 22, "align": "left", "baseline": "middle", "color": "black"},
"encoding": {
"x": {"datum": 1.202, "type": "quantitative", "scale": {"domain": [0.6, 1.8]}, "axis": null},
"y": {"datum": -110, "type": "quantitative", "scale": {"domain": [100, 1800]}, "axis": null}
}
},
{
"data": {"values": [{}]},
"mark": {"type": "text", "text": "μ", "font": "Liberation Sans", "fontWeight": "bold", "fontSize": 24, "angle": 270, "align": "center", "baseline": "middle", "color": "black"},
"encoding": {
"x": {"datum": 0.4257, "type": "quantitative", "scale": {"domain": [0.6, 1.8]}, "axis": null},
"y": {"datum": 491, "type": "quantitative", "scale": {"domain": [100, 1800]}, "axis": null}
}
},
{
"data": {"values": [{}]},
"mark": {"type": "text", "text": "eff", "font": "Liberation Sans", "fontWeight": "bold", "fontSize": 17, "angle": 270, "align": "center", "baseline": "middle", "color": "black"},
"encoding": {
"x": {"datum": 0.4407, "type": "quantitative", "scale": {"domain": [0.6, 1.8]}, "axis": null},
"y": {"datum": 595, "type": "quantitative", "scale": {"domain": [100, 1800]}, "axis": null}
}
},
{
"data": {"values": [{}]},
"mark": {"type": "text", "text": "(cm²/V·s)", "font": "Liberation Sans", "fontWeight": "bold", "fontSize": 24, "angle": 270, "align": "center", "baseline": "middle", "color": "black"},
"encoding": {
"x": {"datum": 0.4257, "type": "quantitative", "scale": {"domain": [0.6, 1.8]}, "axis": null},
"y": {"datum": 962, "type": "quantitative", "scale": {"domain": [100, 1800]}, "axis": null}
}
},
{
"data": {"values": [{}]},
"mark": {"type": "text", "text": "(a)", "font": "Liberation Sans", "fontWeight": "bold", "fontSize": 24, "align": "center", "baseline": "middle", "color": "black"},
"encoding": {
"x": {"datum": 0.456, "type": "quantitative", "scale": {"domain": [0.6, 1.8]}, "axis": null},
"y": {"datum": -81, "type": "quantitative", "scale": {"domain": [100, 1800]}, "axis": null}
}
}
]
}
